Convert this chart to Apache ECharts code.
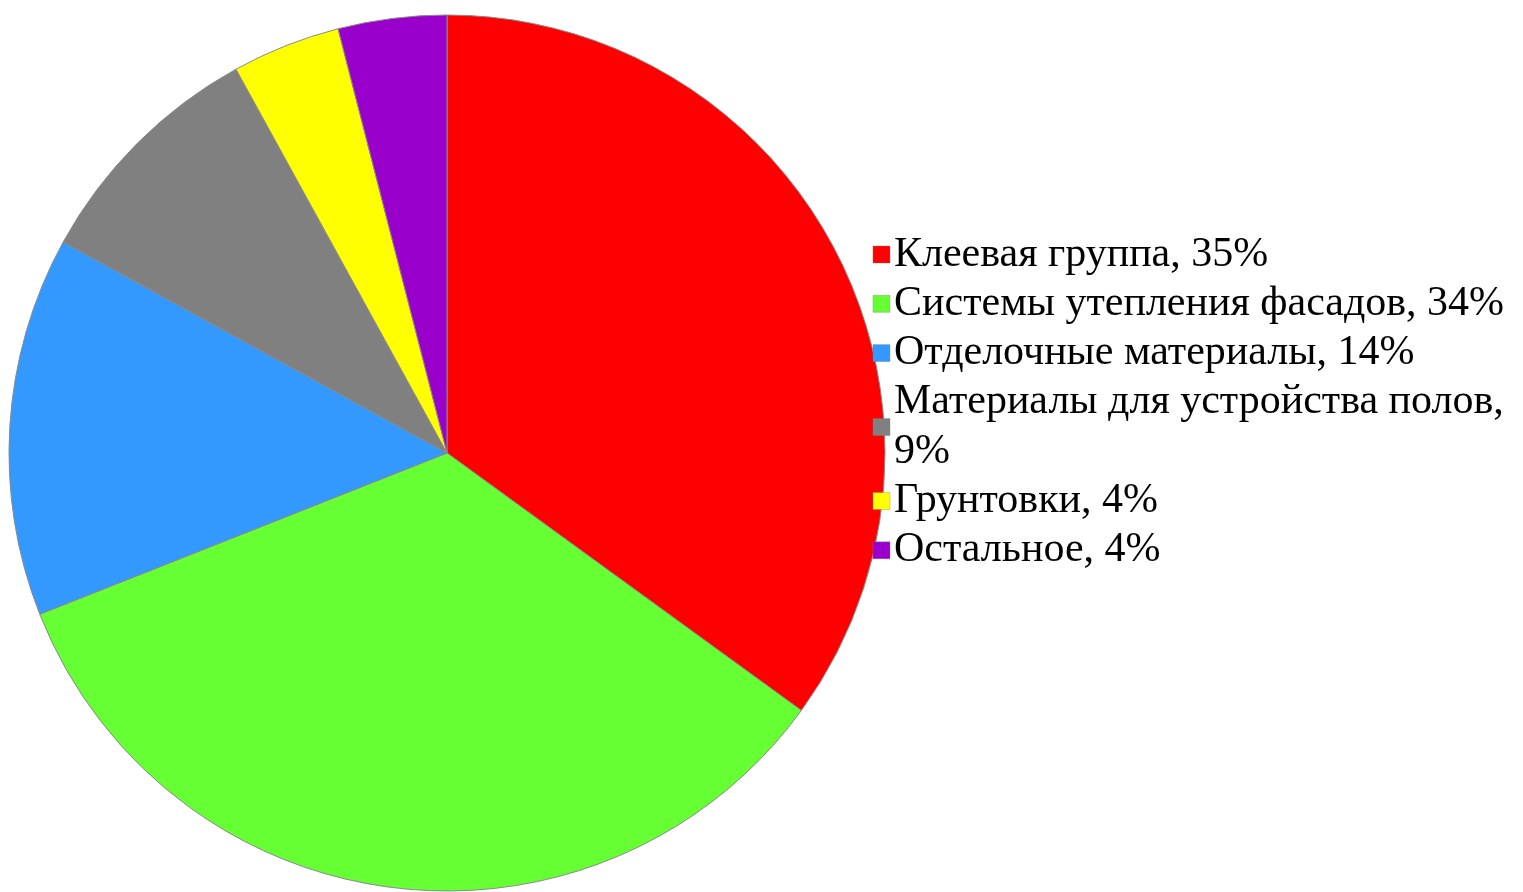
<!DOCTYPE html>
<html>
<head>
<meta charset="utf-8">
<script src="https://cdn.jsdelivr.net/npm/echarts@6/dist/echarts.min.js"></script>
<style>
html,body{margin:0;padding:0;background:#fff;}
#chart{width:1523px;height:892px;}
</style>
</head>
<body>
<div id="chart"></div>
<script>
const categories = ['Клеевая группа', 'Системы утепления фасадов', 'Отделочные материалы', 'Материалы для устройства полов', 'Грунтовки', 'Остальное'];
const values = [35, 34, 14, 9, 4, 4];
const colors = ['#ff0000', '#66ff33', '#3399ff', '#808080', '#ffff00', '#9900cc'];
const legendLabels = ['Клеевая группа, 35%', 'Системы утепления фасадов, 34%', 'Отделочные материалы, 14%', 'Материалы для устройства полов,\n9%', 'Грунтовки, 4%', 'Остальное, 4%'];

// legend layout (drawn as graphic elements built from the arrays above)
const LEG_X = 873, TEXT_X = 894, FIRST_LINE_Y = 254.5, LINE_H = 49.3, MARK = 17, FONT_SIZE = 42;
const FONT = FONT_SIZE + 'px "Liberation Serif"';

const legendGraphics = [];
let line = 0;
legendLabels.forEach((lab, i) => {
  const lines = lab.split('\n');
  const centerY = FIRST_LINE_Y + (line + (lines.length - 1) / 2) * LINE_H;
  legendGraphics.push({
    type: 'rect', silent: true, z: 100,
    shape: {x: LEG_X, y: centerY - MARK / 2, width: MARK, height: MARK},
    style: {fill: colors[i], stroke: 'rgba(120,120,120,0.35)', lineWidth: 1}
  });
  lines.forEach((t, k) => {
    legendGraphics.push({
      type: 'text', silent: true, z: 100,
      left: TEXT_X, top: FIRST_LINE_Y + (line + k) * LINE_H - FONT_SIZE / 2,
      style: {text: t, font: FONT, fill: '#000'}
    });
  });
  line += lines.length;
});

const chart = echarts.init(document.getElementById('chart'), null, {renderer: 'canvas'});
chart.setOption({
  animation: false,
  backgroundColor: '#ffffff',
  color: colors,
  graphic: legendGraphics,
  series: [{
    type: 'pie',
    z: 2,
    center: [447, 453],
    radius: [0, 438],
    startAngle: 90,
    clockwise: true,
    label: {show: false},
    labelLine: {show: false},
    itemStyle: {borderColor: '#8a8a8a', borderWidth: 1},
    emphasis: {disabled: true},
    data: categories.map((c, i) => ({name: c, value: values[i]}))
  }]
});
</script>
</body>
</html>
